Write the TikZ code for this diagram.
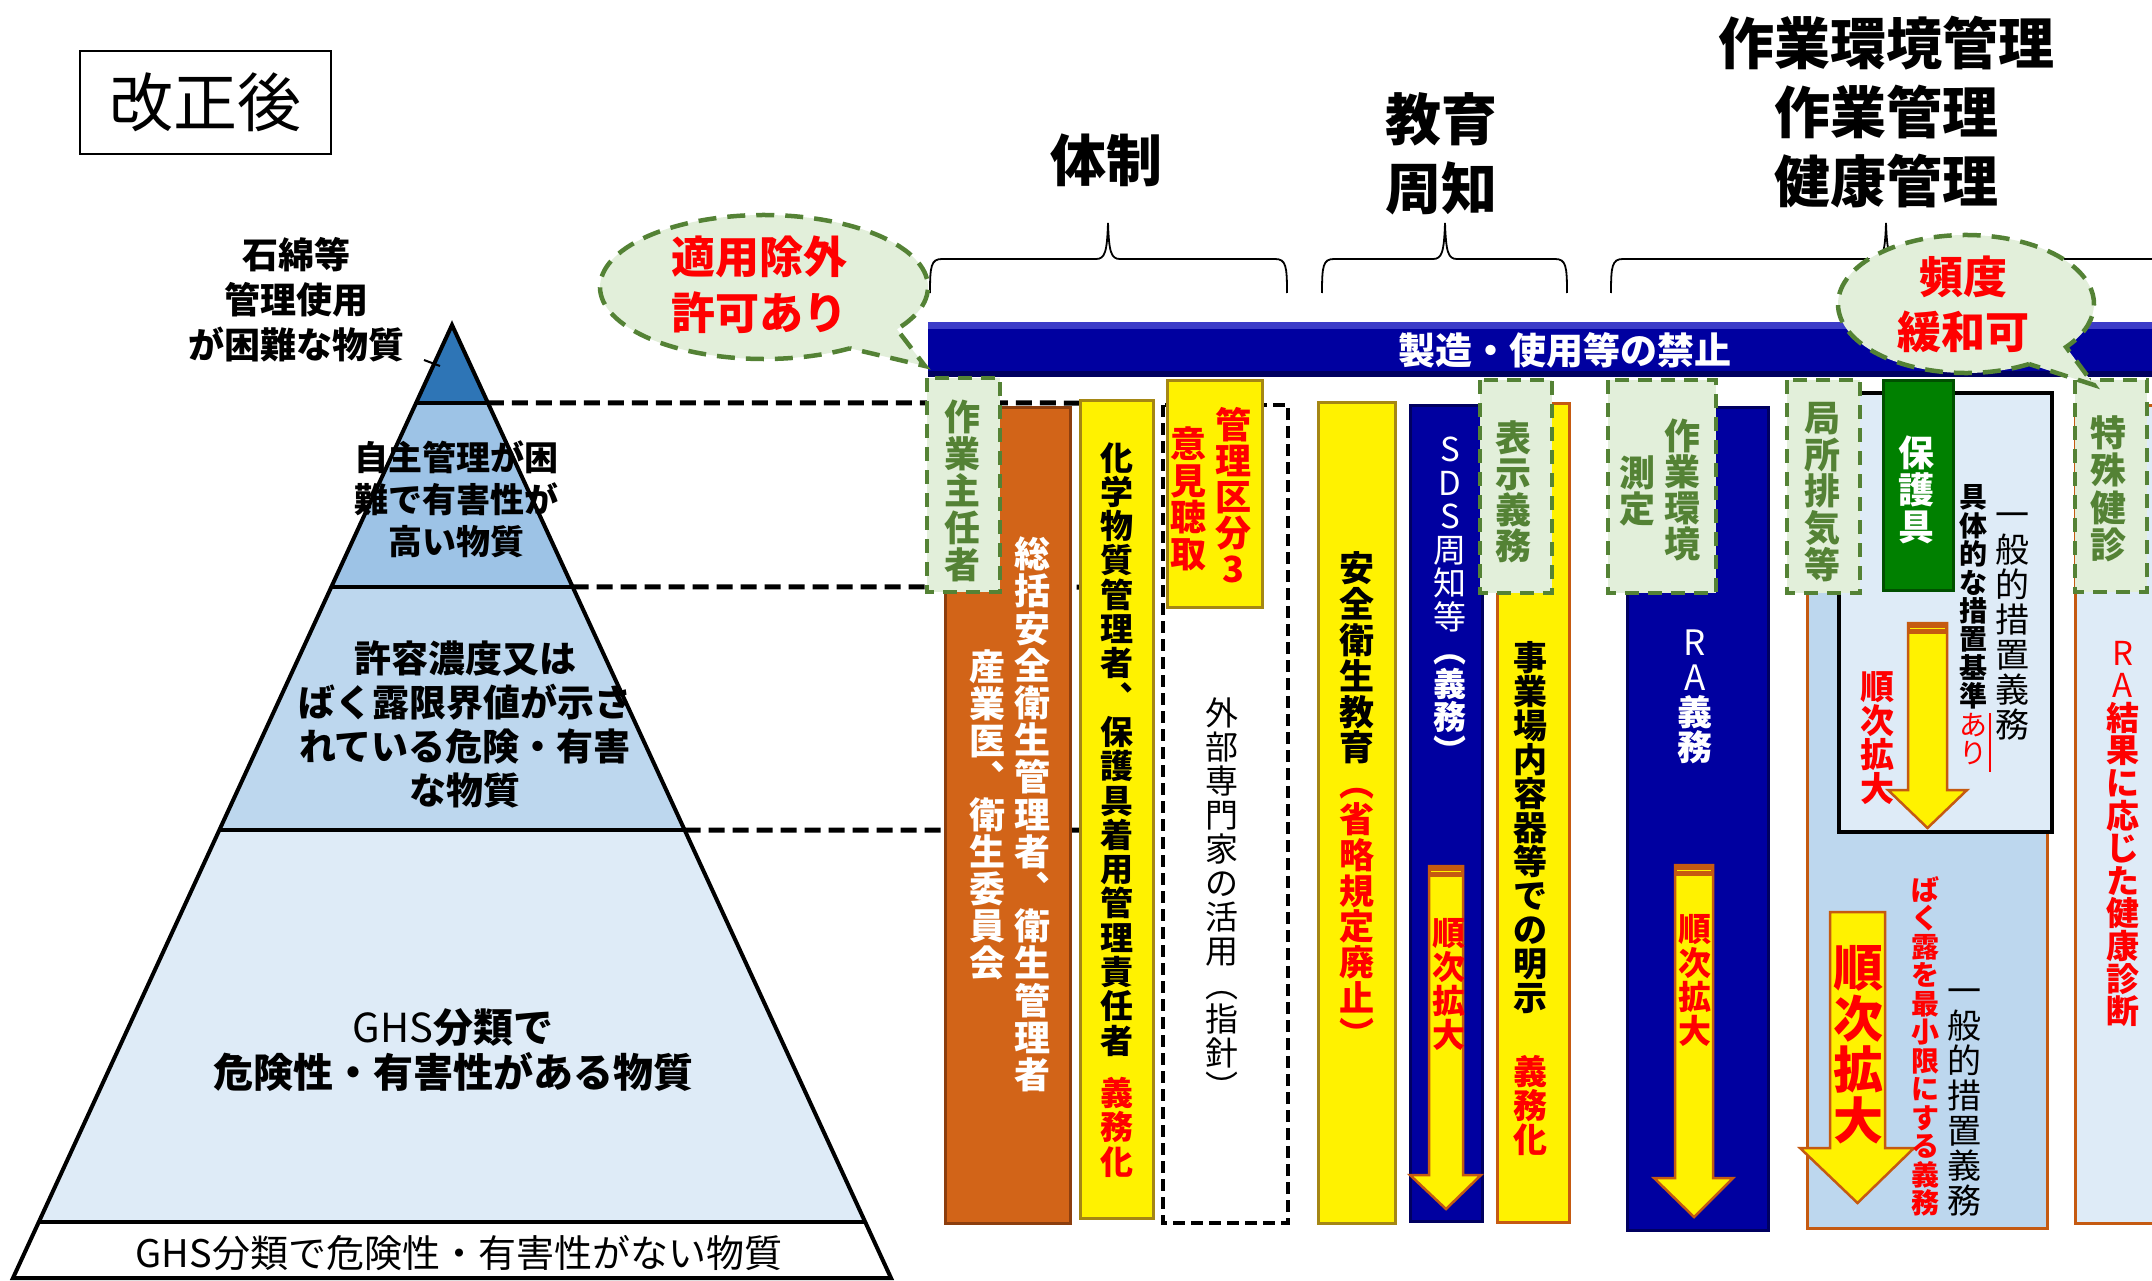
\documentclass[tikz,border=0pt]{standalone}
\usepackage{fontspec}
\setmainfont{Noto Sans CJK JP}
\usetikzlibrary{calc}
\definecolor{barblue}{RGB}{0,0,160}
\definecolor{bluedark}{RGB}{0,0,96}
\definecolor{bluelight}{RGB}{60,60,200}
\definecolor{colorange}{RGB}{210,100,24}
\definecolor{orangedark}{RGB}{140,62,14}
\definecolor{ylwedge}{RGB}{165,135,20}
\definecolor{orngline}{RGB}{197,90,17}
\definecolor{callfill}{RGB}{226,239,218}
\definecolor{callgreen}{RGB}{84,130,53}
\definecolor{pyrA}{RGB}{46,117,182}
\definecolor{pyrB}{RGB}{157,195,230}
\definecolor{pyrC}{RGB}{189,215,238}
\definecolor{pyrD}{RGB}{222,235,247}
\definecolor{grncol}{RGB}{0,128,0}
\definecolor{grndark}{RGB}{0,80,0}
\definecolor{jred}{RGB}{255,0,0}
\makeatletter
\newdimen\vadv
\def\vst#1{\vst@a#1\@nil}
\def\vst@a#1#2\@nil{\hbox to\vadv{\hss\vrule height .88\vadv depth .12\vadv width 0pt\relax#1\hss}%
  \ifx\@nil#2\@nil\expandafter\@gobble\else\expandafter\@firstofone\fi{\vst@a#2\@nil}}
\newcommand\vcol[2]{\vbox{\offinterlineskip\vadv=#1pt\relax#2}}
\makeatother
\tikzset{
  greenbox/.style={fill=callfill, draw=callgreen, line width=4pt, dash pattern=on 14pt off 9pt},
  callout/.style={fill=callfill, draw=callgreen, line width=4.5pt, dash pattern=on 18pt off 11pt},
  bluecol/.style={fill=barblue, draw=bluedark, line width=3pt},
  yellowcol/.style={fill=yellow, draw=ylwedge, line width=3pt},
  orangecol/.style={fill=colorange, draw=orangedark, line width=3pt},
  ylwbordered/.style={fill=yellow, draw=orngline, line width=3pt},
  lbluecol/.style={fill=pyrC, draw=orngline, line width=3pt},
  greencol/.style={fill=grncol, draw=grndark, line width=3pt},
  blackdash/.style={draw=black, line width=3.5pt, dash pattern=on 12pt off 6pt},
  arrowshape/.style={fill=yellow, draw=orngline, line width=2.5pt, line join=miter},
  pyrline/.style={draw=black, line width=4pt},
  hdash/.style={draw=black, line width=5pt, dash pattern=on 16pt off 8pt},
  bracestyle/.style={draw=black, line width=1.8pt},
  vb/.style={inner sep=0pt, font=\bfseries\fontsize{#1pt}{#1pt}\selectfont},
  vr/.style={inner sep=0pt, font=\mdseries\fontsize{#1pt}{#1pt}\selectfont},
  ptxt/.style={align=center, inner sep=0pt},
  ttl/.style={align=center, inner sep=0pt, font=\bfseries\fontsize{56pt}{69pt}\selectfont},
}
\newcommand\yarrowbody[7]{%
  \draw[arrowshape] (#1,#3) -- (#2,#3) -- (#2,#4) -- (#6,#4) -- ({(#1+#2)/2},#7) -- (#5,#4) -- (#1,#4) -- cycle;}
\newcommand\yarrow[7]{%
  \yarrowbody{#1}{#2}{#3}{#4}{#5}{#6}{#7}%
  \fill[orngline] (#1-1,#3-1) rectangle (#2+1,#3+11);
  \draw[yellow, line width=1.5pt] (#1+2,#3+5.5) -- (#2-2,#3+5.5);}
\begin{document}
\begin{tikzpicture}[x=1pt,y=-1pt]
\useasboundingbox (0,0) rectangle (2152,1281);

% title box
\node[draw=black, line width=2.5pt, minimum width=251pt, minimum height=103pt, inner sep=0pt,
      font=\fontsize{64pt}{64pt}\selectfont] (kaisei) at (205.5,102.5) {改正後};

% ---------------- pyramid
\coordinate (apex) at (452,325);
\coordinate (bl) at (13,1278);
\coordinate (br) at (891,1278);
\coordinate (l1) at ($(apex)!0.0818!(bl)$); \coordinate (r1) at ($(apex)!0.0818!(br)$);
\coordinate (l2) at ($(apex)!0.2749!(bl)$); \coordinate (r2) at ($(apex)!0.2749!(br)$);
\coordinate (l3) at ($(apex)!0.5299!(bl)$); \coordinate (r3) at ($(apex)!0.5299!(br)$);
\coordinate (l4) at ($(apex)!0.9412!(bl)$); \coordinate (r4) at ($(apex)!0.9412!(br)$);
\fill[pyrA] (apex) -- (r1) -- (l1) -- cycle;
\fill[pyrB] (l1) -- (r1) -- (r2) -- (l2) -- cycle;
\fill[pyrC] (l2) -- (r2) -- (r3) -- (l3) -- cycle;
\fill[pyrD] (l3) -- (r3) -- (r4) -- (l4) -- cycle;
\fill[white] (l4) -- (r4) -- (br) -- (bl) -- cycle;
\draw[pyrline, line join=miter] (apex) -- (br) -- (bl) -- cycle;
\draw[pyrline] (l1) -- (r1);
\draw[pyrline] (l2) -- (r2);
\draw[pyrline] (l3) -- (r3);
\draw[pyrline] (l4) -- (r4);

\node[ptxt, font=\bfseries\fontsize{36pt}{45pt}\selectfont] (lab0) at (296,300) {石綿等\\管理使用\\が困難な物質};
\coordinate (lead0) at (424,360);
\coordinate (lead1) at (440,366);
\draw[line width=2pt] (lead0) -- (lead1);
\node[ptxt, font=\bfseries\fontsize{34pt}{42pt}\selectfont] (lab1) at (456,499) {自主管理が困\\難で有害性が\\高い物質};
\node[ptxt, font=\bfseries\fontsize{37pt}{44pt}\selectfont] (lab2) at (465,724) {許容濃度又は\\ばく露限界値が示さ\\れている危険・有害\\な物質};
\node[ptxt, font=\bfseries\fontsize{40pt}{45pt}\selectfont] (lab3) at (453,1050) {{\mdseries GHS}分類で\\危険性・有害性がある物質};
\node[ptxt, font=\mdseries\fontsize{38pt}{45pt}\selectfont] (lab4) at (459,1253) {GHS分類で危険性・有害性がない物質};

% dashed guide lines
\coordinate (d1) at (1080,403);
\coordinate (d2) at (1080,587);
\coordinate (d3) at (1080,830);
\draw[hdash] (r1) -- (d1);
\draw[hdash] (r2) -- (d2);
\draw[hdash] (r3) -- (d3);

% ---------------- braces and headings
\draw[bracestyle] (930,293) .. controls (930,266) and (931,259) .. (942,259) -- (1096,259)
  .. controls (1105,259) and (1107,252) .. (1108,223) .. controls (1109,252) and (1111,259) .. (1120,259)
  -- (1275,259) .. controls (1286,259) and (1287,266) .. (1287,293);
\draw[bracestyle] (1322,293) .. controls (1322,266) and (1323,259) .. (1334,259) -- (1433,259)
  .. controls (1442,259) and (1444,252) .. (1445,223) .. controls (1446,252) and (1448,259) .. (1457,259)
  -- (1555,259) .. controls (1566,259) and (1567,266) .. (1567,293);
\draw[bracestyle] (1611,293) .. controls (1611,266) and (1612,259) .. (1623,259) -- (1874,259)
  .. controls (1883,259) and (1885,252) .. (1886,223) .. controls (1887,252) and (1889,259) .. (1898,259)
  -- (2160,259);
\node[ttl] (h1) at (1106,160) {体制};
\node[ttl] (h2) at (1441,153.5) {教育\\周知};
\node[ttl] (h3) at (1886,112) {作業環境管理\\作業管理\\健康管理};

% ---------------- blue bar
\fill[barblue] (928,322) rectangle (2152,377);
\fill[bluelight] (928,322) rectangle (2152,329);
\fill[bluedark] (928,371) rectangle (2152,377);
\node[inner sep=0pt, text=white, font=\bfseries\fontsize{37pt}{37pt}\selectfont] (bartxt) at (1565,350) {製造・使用等の禁止};

% ---------------- columns
% orange
\draw[orangecol] (945,407) rectangle (1070,1223);
\node[vb=36, text=white] (tB1) at (1032,814) {\vcol{37.2}{\vst{総括安全衛生管理者︑衛生管理者}}};
\node[vb=36, text=white] (tB2) at (987,814) {\vcol{37}{\vst{産業医︑衛生委員会}}};
% 作業主任者
\draw[greenbox] (927,378) rectangle (1000,592);
\node[vb=36, text=callgreen] (tA) at (962,490) {\vcol{37}{\vst{作業主任者}}};
% 化学物質管理者
\draw[yellowcol] (1080,400) rectangle (1153,1218);
\node[vb=33] (tC) at (1117,809) {\vcol{34.3}{\vst{化学物質管理者︑保護具着用管理責任者}\vskip18pt{\color{jred}\vst{義務化}}}};
% 外部専門家
\draw[blackdash] (1163,405) rectangle (1288,1223);
\node[vr=33] (tD) at (1222,900) {\vcol{34}{\vst{外部専門家の活用︵指針︶}}};
% 管理区分3
\draw[yellowcol] (1167,380) rectangle (1262,607);
\node[vb=36, text=jred] (tE1) at (1233,497) {\vcol{36}{\vst{管理区分3}}};
\node[vb=36, text=jred] (tE2) at (1188,498.5) {\vcol{36.7}{\vst{意見聴取}}};
% 安全衛生教育
\draw[yellowcol] (1318,402) rectangle (1395,1223);
\node[vb=35] (tF) at (1357,801) {\vcol{35.8}{\vst{安全衛生教育}{\color{jred}\vst{︵省略規定廃止︶}}}};
% SDS
\draw[bluecol] (1410,405) rectangle (1482,1221);
\node[vr=33, text=white] (tG) at (1450,600) {\vcol{33.5}{\vst{SDS周知等}{\bfseries\vst{︵義務︶}}}};
\yarrow{1429}{1463}{866}{1175}{1410}{1481}{1209}
\node[vb=33, text=jred] (tG2) at (1449,984) {\vcol{34}{\vst{順次拡大}}};
% 事業場内容器
\draw[ylwbordered] (1497,403) rectangle (1569,1222);
\node[vb=34] (tI) at (1530,899) {\vcol{34}{\vst{事業場内容器等での明示}\vskip40pt{\color{jred}\vst{義務化}}}};
% 表示義務
\draw[greenbox] (1480,380) rectangle (1552,593);
\node[vb=36, text=callgreen] (tH) at (1513,492) {\vcol{36}{\vst{表示義務}}};
% RA
\draw[bluecol] (1627,407) rectangle (1768,1230);
\node[vr=35, text=white] (tK) at (1695,695) {\vcol{35}{\vst{RA}{\bfseries\vst{義務}}}};
\yarrow{1675}{1713}{865}{1178}{1654}{1733}{1217}
\node[vb=33, text=jred] (tK2) at (1695,980) {\vcol{34}{\vst{順次拡大}}};
% 作業環境測定
\draw[greenbox] (1608,380) rectangle (1716,593);
\node[vb=36, text=callgreen] (tJ1) at (1682,490) {\vcol{36}{\vst{作業環境}}};
\node[vb=36, text=callgreen] (tJ2) at (1637,491) {\vcol{36}{\vst{測定}}};
% light blue column
\draw[lbluecol] (1807,400) rectangle (2047,1228);
\draw[fill=pyrD, draw=black, line width=3.5pt] (1839,393) rectangle (2052,832);
% 局所排気等
\draw[greenbox] (1787,380) rectangle (1860,593);
\node[vb=36, text=callgreen] (tM) at (1822,491) {\vcol{36.6}{\vst{局所排気等}}};
% 保護具
\draw[greencol] (1883,380) rectangle (1953,590);
\node[vb=36, text=white] (tO) at (1916,489) {\vcol{37}{\vst{保護具}}};
\node[vr=34] (tN1) at (2012,619.5) {\vcol{35}{\vst{一般的措置義務}}};
\node[vb=28] (tN2) at (1973,625) {\vcol{28.4}{\vst{具体的な措置基準}{\mdseries\color{jred}\vst{あり}}}};
\coordinate (rl1) at (1990,713);
\coordinate (rl2) at (1990,772);
\draw[jred, line width=2pt] (rl1) -- (rl2);
\yarrow{1908}{1947}{623}{790}{1888}{1967}{828}
\node[vb=34, text=jred] (tN3) at (1877,738) {\vcol{34}{\vst{順次拡大}}};
\yarrowbody{1830}{1885}{912}{1148}{1800}{1914}{1203}
\node[vb=50, text=jred] (tQ1) at (1858,1044) {\vcol{51}{\vst{順次拡大}}};
\node[vb=28, text=jred] (tQ2) at (1925,1046) {\vcol{28.5}{\vst{ばく露を最小限にする義務}}};
\node[vr=34] (tQ3) at (1964,1095) {\vcol{35}{\vst{一般的措置義務}}};
% rightmost
\draw[fill=pyrD, draw=orngline, line width=3pt] (2075,405) rectangle (2200,1223);
\node[vb=33, text=jred] (tS) at (2123,832) {\vcol{32.6}{{\mdseries\vst{RA}}\vst{結果に応じた健康診断}}};
\draw[greenbox] (2075,380) rectangle (2147,592);
\node[vb=36, text=callgreen] (tR) at (2108,488) {\vcol{37.5}{\vst{特殊健診}}};

% ---------------- callouts
\draw[callout] (764,287) ++(58.4:164 and 72) arc[start angle=58.4, end angle=395.9, x radius=164, y radius=72] -- (925,366) -- cycle;
\node[ptxt, text=jred, font=\bfseries\fontsize{44pt}{56pt}\selectfont] (c1) at (759,285) {適用除外\\許可あり};
\draw[callout] (1966,304) ++(60.5:128 and 69) arc[start angle=60.5, end angle=398.6, x radius=128, y radius=69] -- (2094,385) -- cycle;
\node[ptxt, text=jred, font=\bfseries\fontsize{44pt}{55pt}\selectfont] (c2) at (1963,304.5) {頻度\\緩和可};
\end{tikzpicture}
\end{document}
